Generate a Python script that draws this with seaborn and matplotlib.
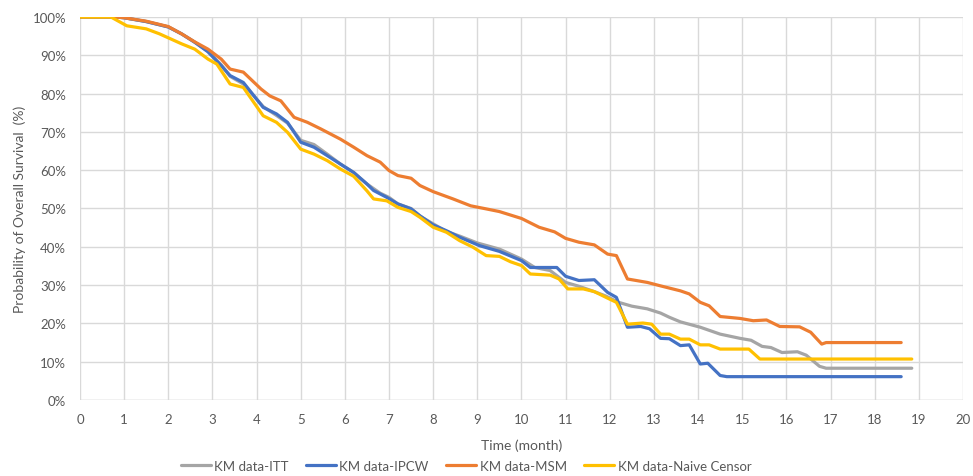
import numpy as np
import pandas as pd
import matplotlib
matplotlib.use("Agg")
import matplotlib.pyplot as plt
import seaborn as sns
from matplotlib.ticker import PercentFormatter

# ---------------------------------------------------------
# DATA
# ---------------------------------------------------------
series_names = ["KM data-ITT", "KM data-IPCW", "KM data-MSM", "KM data-Naive Censor"]
series_colors = ["#A5A5A5", "#4472C4", "#ED7D31", "#FFC000"]

itt_t = [0, 0.8, 1.0, 1.5, 2.0, 2.3, 2.6, 2.9, 3.2, 3.4, 3.7, 4.15, 4.45, 4.7, 5.0, 5.3,
         5.6, 5.9, 6.2, 6.5, 6.8, 7.0, 7.2, 7.5, 7.7, 8.0, 8.3, 8.6, 9.0, 9.5, 10.0, 10.3,
         10.65, 11.0, 11.3, 11.6, 11.9, 12.2, 12.5, 12.85, 13.15, 13.35, 13.6, 14.05, 14.5,
         14.95, 15.2, 15.45, 15.65, 15.9, 16.25, 16.45, 16.75, 16.9, 18.84]
itt_s = [100, 100, 99.8, 98.8, 97.4, 95.6, 93.4, 91.0, 87.5, 84.5, 82.5, 76.6, 74.3, 72.3,
         67.8, 66.7, 64.2, 61.6, 59.4, 56.4, 54.0, 52.9, 51.2, 50.0, 48.0, 46.0, 44.0, 42.8,
         41.0, 39.4, 36.8, 34.6, 33.8, 30.7, 29.7, 28.5, 27.2, 25.5, 24.5, 23.8, 22.7, 21.6,
         20.4, 19.0, 17.2, 16.1, 15.6, 14.0, 13.7, 12.4, 12.6, 11.7, 8.8, 8.3, 8.3]

ipcw_t = [0, 0.8, 1.0, 1.5, 2.0, 2.3, 2.6, 2.9, 3.2, 3.4, 3.7, 4.15, 4.45, 4.7, 5.0, 5.3,
          5.6, 5.9, 6.2, 6.5, 6.65, 6.95, 7.2, 7.5, 7.7, 8.0, 8.3, 8.6, 9.05, 9.5, 10.0,
          10.2, 10.8, 11.0, 11.3, 11.65, 11.95, 12.15, 12.4, 12.7, 12.9, 13.15, 13.35, 13.6,
          13.8, 14.05, 14.22, 14.5, 14.65, 18.6]
ipcw_s = [100, 100, 99.8, 98.8, 97.4, 95.6, 93.4, 90.9, 87.3, 84.7, 82.9, 76.4, 74.7, 72.5,
          67.3, 66.0, 63.8, 61.6, 59.4, 56.4, 54.7, 52.9, 51.2, 49.9, 48.1, 45.7, 44.2, 42.5,
          40.3, 38.8, 36.4, 34.6, 34.6, 32.3, 31.2, 31.4, 28.1, 26.8, 19.0, 19.2, 18.6, 16.1,
          16.0, 14.2, 14.4, 9.4, 9.6, 6.4, 6.1, 6.1]

msm_t = [0, 0.8, 1.0, 1.5, 2.0, 2.3, 2.6, 2.9, 3.2, 3.4, 3.7, 4.1, 4.3, 4.55, 4.85, 5.15,
         5.45, 5.9, 6.2, 6.5, 6.8, 7.0, 7.2, 7.5, 7.7, 8.0, 8.45, 8.85, 9.2, 9.5, 10.0, 10.4,
         10.75, 11.0, 11.3, 11.65, 11.95, 12.15, 12.4, 12.85, 13.15, 13.6, 13.8, 14.05, 14.25,
         14.5, 14.95, 15.25, 15.55, 15.85, 16.3, 16.55, 16.8, 16.9, 18.6]
msm_s = [100, 100, 99.8, 98.9, 97.5, 95.6, 93.5, 91.6, 89.0, 86.4, 85.6, 81.2, 79.4, 78.1,
         73.8, 72.5, 70.8, 68.1, 66.0, 63.8, 62.1, 59.9, 58.6, 57.9, 56.0, 54.4, 52.5, 50.7,
         49.9, 49.2, 47.4, 45.1, 43.9, 42.2, 41.2, 40.5, 38.1, 37.7, 31.6, 30.7, 29.8, 28.5,
         27.7, 25.5, 24.6, 21.8, 21.3, 20.7, 20.9, 19.2, 19.1, 17.7, 14.6, 15.0, 15.0]

naive_t = [0, 0.7, 1.06, 1.5, 1.8, 2.05, 2.3, 2.6, 2.9, 3.1, 3.4, 3.7, 4.15, 4.45, 4.7, 5.0,
           5.3, 5.6, 5.9, 6.2, 6.5, 6.65, 6.95, 7.2, 7.5, 7.7, 8.0, 8.3, 8.6, 8.9, 9.2, 9.5,
           9.75, 10.0, 10.2, 10.65, 10.85, 11.05, 11.4, 11.65, 11.95, 12.15, 12.4, 12.75,
           12.95, 13.15, 13.35, 13.6, 13.8, 14.05, 14.25, 14.5, 15.15, 15.4, 18.84]
naive_s = [100, 100, 97.7, 96.9, 95.6, 94.3, 93.0, 91.6, 89.0, 87.7, 82.5, 81.6, 74.2, 72.5,
           69.9, 65.5, 64.2, 62.5, 60.3, 58.4, 54.6, 52.5, 52.0, 50.3, 49.2, 47.7, 45.1, 43.8,
           41.6, 39.9, 37.7, 37.5, 36.1, 35.1, 32.9, 32.6, 31.6, 29.0, 29.0, 28.3, 26.6, 25.5,
           19.8, 20.1, 19.8, 17.2, 17.2, 15.9, 15.9, 14.4, 14.4, 13.3, 13.3, 10.7, 10.7]

x_ticks = list(range(0, 21))
y_ticks = list(range(0, 101, 10))


def build_frame():
    parts = []
    for name, t, s in zip(series_names,
                          [itt_t, ipcw_t, msm_t, naive_t],
                          [itt_s, ipcw_s, msm_s, naive_s]):
        parts.append(pd.DataFrame({"month": t, "surv": s, "series": name}))
    return pd.concat(parts, ignore_index=True)


def main():
    df = build_frame()

    sns.set_theme(style="white")
    plt.rcParams["font.family"] = ["Lato", "DejaVu Sans"]

    fig = plt.figure(figsize=(9.73, 4.77), dpi=100)
    ax = fig.add_axes([0.0822, 0.1593, 0.9075, 0.8030])

    sns.lineplot(data=df, x="month", y="surv", hue="series",
                 hue_order=series_names, palette=series_colors,
                 linewidth=2.3, sort=False, ax=ax)
    for line in ax.get_lines():
        line.set_solid_joinstyle("round")
        line.set_solid_capstyle("round")

    ax.set_xlim(0, 20)
    ax.set_ylim(0, 100)
    ax.set_xticks(x_ticks)
    ax.set_yticks(y_ticks)
    ax.yaxis.set_major_formatter(PercentFormatter(decimals=0))
    ax.grid(True, color="#D9D9D9", linewidth=1.0)
    ax.set_axisbelow(True)
    for sp in ax.spines.values():
        sp.set_visible(False)
    ax.axhline(0, color="#D9D9D9", linewidth=1.0, zorder=0)

    ax.tick_params(axis="both", length=0, labelsize=9.5, colors="#595959")
    ax.tick_params(axis="x", pad=9)
    ax.tick_params(axis="y", pad=10)

    ax.set_xlabel("Time (month)", fontsize=10, color="#595959", labelpad=10)
    ax.set_ylabel("Probability of Overall Survival  (%)", fontsize=10,
                  color="#595959", labelpad=5)

    sns.move_legend(ax, "center", bbox_to_anchor=(0.437, -0.172), ncol=4,
                    frameon=False, title=None, fontsize=9.5,
                    handlelength=2.3, columnspacing=1.3, handletextpad=0.25)
    for txt in ax.get_legend().get_texts():
        txt.set_color("#595959")

    fig.savefig("out.png", dpi=100)
    plt.close(fig)


if __name__ == "__main__":
    main()
